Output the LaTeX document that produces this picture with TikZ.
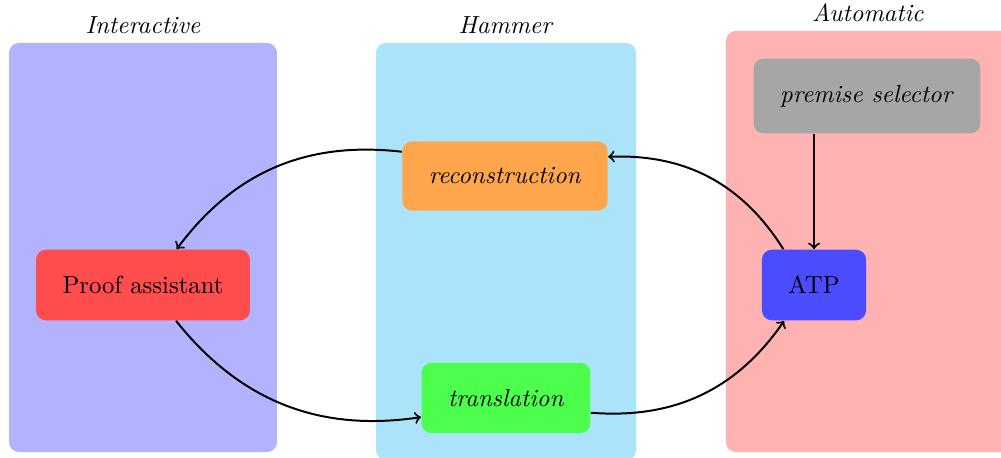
\documentclass[tikz,border=0pt]{standalone}
\usetikzlibrary{positioning}
\tikzset{
  box/.style={rounded corners=4pt, inner sep=10.7pt},
  zone/.style={rounded corners=4pt},
  link/.style={->, thick}
}
\begin{document}
\begin{tikzpicture}
            \useasboundingbox (0,0) rectangle (14.224,6.508);
            % Coordinates
            \coordinate (I) at (2.032,5.897);
            \coordinate (H) at (7.190,5.897);
            \coordinate (M) at (12.334,6.068);
            % Zones
            \fill[zone,blue!30] (0.128,0.085) rectangle (3.936,5.897);
            \fill[zone,cyan!33] (5.343,-0.03) rectangle (9.038,5.897);
            \fill[zone,red!30] (10.316,0.085) rectangle (14.6,6.068);
            % Labels
            \node (interactive) at (I) [above] {\textit{Interactive}};
            \node (hammer) at (H) [above] {\textit{Hammer}};
            \node (automatic) at (M) [above] {\textit{Automatic}};
            % Boxes
            \node[box,fill=red!70] (proof) at (2.032,2.458) {Proof assistant};
            \node[box,fill=orange!70] (recon) at (7.176,4.007) {\textit{reconstruction}};
            \node[box,fill=green!70] (transl) at (7.190,0.853) {\textit{translation}};
            \node[box,fill=gray!70] (premise) at (12.320,5.144) {\textit{premise selector}};
            \node[box,fill=blue!70] (atp) at (11.567,2.458) {ATP};
            % draw arrows
            \draw[link] (recon) to[bend right] (proof);
            \draw[link] (proof) to[bend right] (transl);
            \draw[link] (transl) to[bend right] (atp);
            \draw[link] (atp) to[bend right] (recon);
            \draw[link] (premise.south -| atp.north) -- (atp.north);
        \end{tikzpicture}
\end{document}
